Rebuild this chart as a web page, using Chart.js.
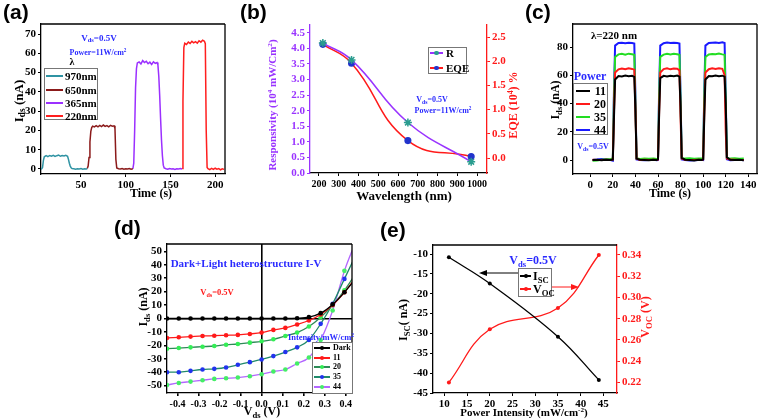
<!DOCTYPE html>
<html><head><meta charset="utf-8">
<script src="https://cdn.jsdelivr.net/npm/chart.js@4.4.1/dist/chart.umd.min.js"></script>
<style>
html,body{margin:0;padding:0;background:#fff;}
#wrap{position:relative;width:760px;height:419px;overflow:hidden;background:#fff;}
#wrap canvas{position:absolute;left:0;top:0;}
.t{position:absolute;white-space:nowrap;font-family:'Liberation Serif','Times New Roman',serif;font-weight:bold;line-height:1;transform:translate(-50%,-50%);}
.pl{position:absolute;white-space:nowrap;font-family:'Liberation Sans',Arial,sans-serif;font-weight:bold;font-size:21px;line-height:1;}
.t sub{font-size:72%;vertical-align:-0.3em;line-height:0;}
.t sup{font-size:65%;vertical-align:0.55em;line-height:0;}
.lg{position:absolute;border:1px solid #777;background:#fff;box-sizing:border-box;}
.sg{position:absolute;}
.dt{position:absolute;border-radius:50%;}
</style>
</head><body>
<div id="wrap">
<canvas id="ca" width="760" height="419"></canvas>
<canvas id="cb" width="760" height="419"></canvas>
<canvas id="cc" width="760" height="419"></canvas>
<canvas id="cd" width="760" height="419"></canvas>
<canvas id="ce" width="760" height="419"></canvas>
<svg style="position:absolute;left:0;top:0;" width="760" height="419">
<line x1="518" y1="273" x2="485" y2="273" stroke="#000" stroke-width="1"/>
<polygon points="479,273 487,270 487,276" fill="#000"/>
<line x1="552" y1="287" x2="573" y2="287" stroke="#ff1a1a" stroke-width="1"/>
<polygon points="579,287 571,284 571,290" fill="#ff1a1a"/>
</svg>
</div>
<script>
// ---------- (a) photocurrent vs time at different wavelengths ----------
const t970=[5,6,7,8,9,11,13,15,17,19,21,23,25,27,29,31,33,35,36,37,38,39,40,42,44,46,48,50,52,54,56,57];
const i970=[0,0.1,0.8,4.5,6.3,6.9,6.4,7.0,6.6,7.1,6.5,6.9,7.2,6.6,7.0,6.8,7.1,6.6,5.0,3.0,1.5,0.6,0.2,0.1,-0.1,0.1,0,0.2,-0.1,0.1,0,0.2];
const t650=[57,58,59,60,61,62,63,65,67,69,71,73,75,77,79,81,83,85,87,88,89,90,92,94,96,98,100,102,104,106,108];
const i650=[0.2,1.5,6,14,19.5,21.5,22.2,21.8,22.5,21.9,22.6,22.0,22.8,22.1,22.5,21.9,22.6,22.2,22.4,21,5,0.5,0.1,0,0.2,-0.1,0.1,0,0.2,-0.1,0.1];
const t365=[108,109,110,111,112,113,115,117,119,121,123,125,127,129,131,133,135,136,137,138,139,140,141,142,143,145,147,149,151,153,155,157,159,161,163];
const i365=[0.1,3,20,42,52,55,55.5,54.5,56.2,55.2,55.9,54.6,55.4,54.2,55.6,54.8,55.2,54,48,38,26,15,7,2,0.5,0.1,-0.1,0.2,0,0.1,-0.2,0.1,0,0.2,0];
const t220=[163,164,165,166,168,170,172,174,176,178,180,182,184,186,188,189,190,191,192,194,196,198,200,202,204,206,208,210];
const i220=[0.3,35,63,65.2,64.6,65.8,65.1,66.2,65.4,66.0,65.3,66.5,65.8,66.8,66.2,65,20,0.8,0.2,-0.3,0.3,-0.2,0.4,-0.1,0.2,-0.4,0.1,-0.2];
const labelsA=['970nm','650nm','365nm','220nm'];
const xTicksA=[50,100,150,200];
const yTicksA=[0,10,20,30,40,50,60,70];

// ---------- (b) responsivity & EQE vs wavelength ----------
const wavelengthB=[220,365,650,970];
const respB=[4.17,3.63,1.62,0.36];
const eqeB=[2.35,1.96,0.36,0.03];
const xTicksB=[200,300,400,500,600,700,800,900,1000];
const yTicksB=[0,0.5,1,1.5,2,2.5,3,3.5,4,4.5];
const y2TicksB=[0,0.5,1,1.5,2,2.5];

// ---------- (c) photocurrent vs time at different powers ----------
const tC=[2,6,10,14,18,20,21,22,25,28,31,34,37,39,40,41,44,48,52,56,59,60,61,62,65,68,71,74,77,79,80,81,84,88,92,96,99,100,101,102,105,108,111,114,117,119,120,121,124,128,132,136];
const c11=[0.1,0.2,-0.1,0.1,0,0.3,30,57,59.5,59.2,59.8,59.3,59.6,58.8,35,1,0.2,0,-0.2,0.1,0,0.5,32,58,59.6,59.2,59.7,59.4,59.8,59,38,1.5,0.2,0,-0.3,0.1,0,0.4,30,57,59.5,59.3,59.9,59.4,59.7,59,40,2,0.2,0,0.1,-0.2];
const c20=[0.2,0.1,0,0.2,0.1,0.4,34,62,64.2,64.8,64.3,64.9,64.5,64,36,1,0.1,0.2,0,0.2,0.1,0.4,34,62,64.4,64.9,64.2,64.8,64.6,63.5,30,1,0.2,0.1,0,0.2,0.1,0.5,34,62,64.3,64.9,64.5,65,64.6,60,20,1,0.3,0.2,0,0.1];
const c35=[-0.5,-0.3,0.2,0.5,0.8,1,45,73,74.8,75.2,74.6,75.3,74.9,74.5,40,1.2,0.8,1,0.9,1.1,0.8,1,45,73,74.6,75.2,74.8,75.3,74.9,74.5,40,1.5,1,1.2,0.9,1,1.1,1,45,73,74.7,75.1,74.9,75.4,74.8,74.5,40,1.5,1,1.2,0.9,1];
const c44=[0,0.3,0.8,0.5,0,-0.5,50,81,82.8,83.1,82.7,83,82.9,82.5,45,0.5,0,-0.2,0,0.1,-0.2,0,50,81,82.7,83.2,82.8,83.1,82.9,82.5,45,0.5,0,-0.3,-0.2,0,0.1,0,50,81,82.8,83,83.2,82.9,83.3,82.8,45,0.5,-0.1,0,0.1,-0.1];
const labelsC=['11','20','35','44'];
const xTicksC=[0,20,40,60,80,100,120,140];
const yTicksC=[0,20,40,60,80];

// ---------- (d) I-V curves ----------
const vD=[-0.45,-0.394,-0.338,-0.281,-0.225,-0.169,-0.113,-0.056,0,0.056,0.113,0.169,0.225,0.281,0.338,0.394,0.45];
const iDark=[0,0,0,0,0,0,0,0,0,0,0,0.2,1,4,10.5,19.5,30];
const i11=[-14.5,-14,-13.5,-13,-12.8,-12.5,-12.2,-11.5,-10.5,-8.5,-7,-4.5,-1.5,3,10,19.5,31];
const i20=[-22.5,-22,-21.5,-21,-20.5,-19.5,-19,-18,-17,-15.5,-13,-10.5,-6,1,10,21,34];
const i35=[-40,-40,-39,-38,-37.5,-36.5,-34.5,-32.5,-30.5,-28,-25,-21.5,-16,-4,11,29.5,48];
const i44=[-49.5,-48,-47,-46,-45,-44.5,-44,-43,-41.5,-39.5,-38,-33.5,-29,-16,6,35.5,58];
const labelsD=['Dark','11','20','35','44'];
const xTicksD=[-0.4,-0.3,-0.2,-0.1,0,0.1,0.2,0.3,0.4];
const yTicksD=[-50,-40,-30,-20,-10,0,10,20,30,40,50];

// ---------- (e) Isc / Voc vs power ----------
const powerE=[11,20,35,44];
const iscE=[-10.8,-17.4,-30.8,-41.7];
const vocE=[0.22,0.27,0.29,0.34];
const xTicksE=[10,15,20,25,30,35,40,45];
const yTicksE=[-45,-40,-35,-30,-25,-20,-15,-10];
const y2TicksE=[0.22,0.24,0.26,0.28,0.30,0.32,0.34];

// ================= rendering =================
const FONT="'Liberation Serif','Times New Roman',serif";
const BLUE='#2b2bff', PURPLE='#9933ff', RED='#ff1a1a';
Chart.defaults.font.family=FONT;
Chart.defaults.font.weight='bold';
Chart.defaults.color='#000';
Chart.defaults.plugins.legend.display=false;
Chart.defaults.plugins.tooltip.enabled=false;
Chart.defaults.animation=false;
const W=760,H=419;
const wrap=document.getElementById('wrap');

const frame={id:'frame',afterDatasetsDraw(c,a,o){
  const {left,top,right,bottom}=c.chartArea;const x=c.ctx;x.save();x.strokeStyle='#000';x.lineWidth=1.3;x.beginPath();
  if(o.top){x.moveTo(left,top);x.lineTo(right,top);}
  if(o.right){x.moveTo(right,top);x.lineTo(right,bottom);}
  x.stroke();x.restore();}};

function ax(pos,min,max,ticks,fmt,color,size){
  color=color||'#000';
  return {type:'linear',position:pos,min,max,
    afterBuildTicks:sc=>{sc.ticks=ticks.map(v=>({value:v}));},
    ticks:{color,font:{size:size||11,weight:'bold',family:FONT},padding:2,maxRotation:0,autoSkip:false,callback:v=>fmt?fmt(v):String(v)},
    grid:{drawOnChartArea:false,tickLength:3,color,tickColor:color,lineWidth:1},
    border:{color,width:1.3}};
}
function ds(label,xs,ys,color,extra){
  return Object.assign({label,data:xs.map((x,i)=>({x,y:ys[i]})),borderColor:color,backgroundColor:color,borderWidth:1.5,pointRadius:0,tension:0,fill:false},extra||{});
}
function mk(id,area,cfg,fr,rw){
  const YW=30,XH=20;rw=rw||0;
  cfg.options.responsive=false;cfg.options.devicePixelRatio=1;cfg.options.animation=false;
  cfg.options.layout={padding:{left:area.l-YW,top:area.t,right:W-area.r-rw,bottom:H-area.b-XH}};
  const sc=cfg.options.scales;
  for(const k in sc){const s=sc[k];
    if(s.position==='left')s.afterFit=x=>{x.width=YW;};
    else if(s.position==='right')s.afterFit=x=>{x.width=rw;};
    else s.afterFit=x=>{x.height=XH;};}
  cfg.options.plugins=Object.assign({frame:fr||{}},cfg.options.plugins||{});
  cfg.plugins=[frame];
  return new Chart(document.getElementById(id),cfg);
}
function el(cls,css,html){const d=document.createElement('div');d.className=cls;Object.assign(d.style,css);if(html!==undefined)d.innerHTML=html;wrap.appendChild(d);return d;}
function T(x,y,html,size,color,rot){return el('t',{left:x+'px',top:y+'px',fontSize:size+'px',color:color||'#000',transform:rot?'translate(-50%,-50%) rotate(-90deg)':'translate(-50%,-50%)'},html);}
function TL(x,y,html,size,color){return el('t',{left:x+'px',top:y+'px',fontSize:size+'px',color:color||'#000',transform:'translate(0,-50%)'},html);}
function TR(x,y,html,size,color){return el('t',{left:x+'px',top:y+'px',fontSize:size+'px',color:color||'#000',transform:'translate(-100%,-50%)'},html);}
function PL(x,y,txt){return el('pl',{left:x+'px',top:y+'px'},txt);}
function BOX(l,t,r,b){return el('lg',{left:l+'px',top:t+'px',width:(r-l)+'px',height:(b-t)+'px'});}
function SEG(x1,x2,y,color,th){th=th||2;return el('sg',{left:x1+'px',top:(y-th/2)+'px',width:(x2-x1)+'px',height:th+'px',background:color});}
function DOT(x,y,r,color){return el('dt',{left:(x-r)+'px',top:(y-r)+'px',width:2*r+'px',height:2*r+'px',background:color});}

// ---- (a)
const colA=['#2f93a3','#8b1a1a','#9b30ff','#ff1e1e'];
const chA=mk('ca',{l:41,t:24,r:225,b:174},{type:'line',data:{datasets:[
  ds(labelsA[0],t970,i970,colA[0]),ds(labelsA[1],t650,i650,colA[1]),ds(labelsA[2],t365,i365,colA[2]),ds(labelsA[3],t220,i220,colA[3])]},
  options:{scales:{x:ax('bottom',5.3,211,xTicksA),y:ax('left',-2.6,75.2,yTicksA)}}},{top:true,right:true});

// ---- (b)
const chB=mk('cb',{l:310,t:25,r:487,b:173},{type:'line',data:{datasets:[
  ds('R',wavelengthB,respB,PURPLE,{yAxisID:'y',tension:0.45,pointRadius:4,pointStyle:'star',pointBorderColor:'#2a9d8f',pointBackgroundColor:'#2a9d8f',pointBorderWidth:1.5}),
  ds('EQE',wavelengthB,eqeB,RED,{yAxisID:'y2',tension:0.45,pointRadius:2.8,pointBorderColor:'#2233cc',pointBackgroundColor:'#2233cc'})]},
  options:{scales:{x:ax('bottom',155,1050,xTicksB,null,null,10),
    y:ax('left',0,4.75,yTicksB,v=>v.toFixed(1),PURPLE),
    y2:ax('right',-0.31,2.75,y2TicksB,v=>v.toFixed(1),RED)}}},{},30);

// ---- (c)
const colC=['#000000','#ff1a1a','#22dd22','#1a1aff'];
const chC=mk('cc',{l:573,t:24,r:757,b:174},{type:'line',data:{datasets:[
  ds(labelsC[0],tC,c11,colC[0],{borderWidth:2}),ds(labelsC[1],tC,c20,colC[1],{borderWidth:2}),
  ds(labelsC[2],tC,c35,colC[2],{borderWidth:2}),ds(labelsC[3],tC,c44,colC[3],{borderWidth:2})]},
  options:{scales:{x:ax('bottom',-15.3,147.7,xTicksC),y:ax('left',-9.9,96.3,yTicksC)}}},{top:true,right:true});

// ---- (d)
const lineD=['#000000','#ff1a1a','#2e8b57','#1f8a6a','#b366ff'];
const markD=['#000000','#ff1a1a','#33ee55','#2233ee','#44ee66'];
const ysD=[iDark,i11,i20,i35,i44];
const zeroGrid={drawOnChartArea:true,tickLength:3,tickColor:'#000',lineWidth:1.6,color:c=>(c.tick&&c.tick.value===0)?'#000':'rgba(0,0,0,0)'};
const scD={x:ax('bottom',-0.45,0.43,xTicksD,v=>v.toFixed(1),null,10),y:ax('left',-55.5,55.5,yTicksD)};
scD.x.grid=zeroGrid;scD.y.grid=zeroGrid;
const chD=mk('cd',{l:167,t:244,r:352,b:393},{type:'line',data:{datasets:
  labelsD.map((lb,k)=>ds(lb,vD,ysD[k],lineD[k],{borderWidth:1.3,cubicInterpolationMode:'monotone',pointRadius:2.3,pointBorderWidth:0,pointBackgroundColor:markD[k],pointBorderColor:markD[k]}))},
  options:{scales:scD}},{top:true,right:true});

// ---- (e)
const chE=mk('ce',{l:433,t:245,r:617,b:393},{type:'line',data:{datasets:[
  ds('I<sub>SC</sub>',powerE,iscE,'#000',{yAxisID:'y',tension:0.4,borderWidth:1.3,pointRadius:2,pointBorderWidth:0}),
  ds('V<sub>OC</sub>',powerE,vocE,RED,{yAxisID:'y2',tension:0.4,borderWidth:1.3,pointRadius:2,pointBorderWidth:0})]},
  options:{scales:{x:ax('bottom',7.5,48,xTicksE),y:ax('left',-45,-7.7,yTicksE),
    y2:ax('right',0.21,0.3494,y2TicksE,v=>v.toFixed(2),RED)}}},{top:true},30);

// ================= text overlays =================
PL(3,1,'(a)');PL(240,1,'(b)');PL(525,1,'(c)');PL(114,217,'(d)');PL(380,219,'(e)');

// axis titles
T(18,101,'I<sub>ds</sub> (nA)',13,'#000',true); T(151,193,'Time (s)',12);
T(272,105,'Responsivity (10<sup>4</sup> mW/Cm<sup>2</sup>)',11,PURPLE,true);
T(513,105,'EQE (10<sup>4</sup>) %',12,RED,true); T(404,195,'Wavelength (nm)',13);
T(555,100,'I<sub>ds</sub> (nA)',12,'#000',true); T(670,193,'Time (s)',12);
T(143,307,'I<sub>ds</sub> (nA)',12,'#000',true); T(262,411,'V<sub>ds</sub> (V)',12);
T(403,320,'I<sub>SC</sub>( nA)',12,'#000',true); T(645,317,'V<sub>OC</sub> (V)',12,RED,true);
T(524,412,'Power Intensity (mW/cm<sup>-2</sup>)',11);

// annotations
T(99,38,'V<sub>ds</sub>=0.5V',9,BLUE); T(98,53,'Power=11W/cm<sup>2</sup>',8,BLUE);
T(432,100,'V<sub>ds</sub>=0.5V',8,BLUE); T(443,111,'Power=11W/cm<sup>2</sup>',8,BLUE);
T(614,35,'λ=220 nm',11,'#000'); T(593,147,'V<sub>ds</sub>=0.5V',8,BLUE);
T(246,263,'Dark+Light heterostructure I-V',11,BLUE); T(217,292,'V<sub>ds</sub>=0.5V',8.5,RED);
T(533,260,'V<sub>ds</sub>=0.5V',12,BLUE);

// legend (a)
T(72,62,'λ',10,'#000');
BOX(44,68,98,120);
[76,90,103,116].forEach((y,k)=>{const d=chA.data.datasets[k];SEG(46,63,y,d.borderColor,2);TL(65,y,d.label,11);});

// legend (b)
BOX(428,47,467,74);
[53,68].forEach((y,k)=>{const d=chB.data.datasets[k];SEG(430,443,y,d.borderColor,1.5);DOT(436.5,y,2.2,d.pointBackgroundColor);TL(446,y,d.label,11);});

// legend (c)
T(590,76,'Power',12,BLUE);
BOX(573,83,608,135);
[91,104,117,130].forEach((y,k)=>{const d=chC.data.datasets[k];SEG(576,590,y,d.borderColor,2);TR(606,y,d.label,12);});

// legend (d)
T(321,337,'Intensity/mW/cm<sup>2</sup>',8.5,BLUE);
BOX(312,342,353,394);
[348,358,367,377,387].forEach((y,k)=>{const d=chD.data.datasets[k];SEG(314,330,y,d.borderColor,1.3);DOT(322,y,2.2,d.pointBackgroundColor);TL(333,y,d.label,8);});

// legend (e)
BOX(518,268,552,297);
[276,289].forEach((y,k)=>{const d=chE.data.datasets[k];SEG(520,531,y,d.borderColor,1.3);DOT(525.5,y,2,d.borderColor);TL(533,y,d.label,12);});
</script>
</body></html>
